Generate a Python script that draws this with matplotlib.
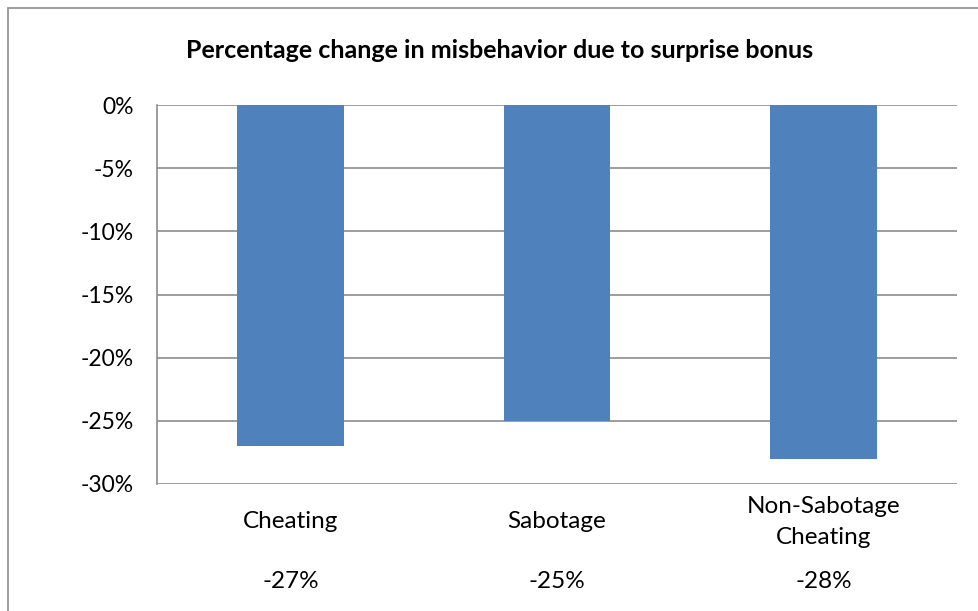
import matplotlib
matplotlib.use("Agg")
import matplotlib.pyplot as plt
from matplotlib.patches import Rectangle
from matplotlib.transforms import blended_transform_factory

categories = ["Cheating", "Sabotage", "Non-Sabotage\nCheating"]
values = [-27, -25, -28]
value_labels = ["-27%", "-25%", "-28%"]
yticks = [0, -5, -10, -15, -20, -25, -30]
ytick_labels = ["0%", "-5%", "-10%", "-15%", "-20%", "-25%", "-30%"]

plt.rcParams["font.family"] = ["Lato", "DejaVu Sans"]

W, H = 979, 611
fig = plt.figure(figsize=(W / 100, H / 100), dpi=100)

# outer chart frame
fig.patches.append(Rectangle((8 / W, -0.05), 1.2, 1 - 8 / H + 0.05,
                             transform=fig.transFigure, fill=False,
                             edgecolor="#8c8c8c", linewidth=1.2))

ax = fig.add_axes([157 / W, 1 - 484 / H, 800 / W, 379 / H])

x = list(range(len(categories)))
ax.bar(x, values, width=0.4, color="#4F81BD", zorder=3)

ax.set_xlim(-0.5, len(categories) - 0.5)
ax.set_ylim(-30, 0)
ax.set_yticks(yticks)
ax.set_yticklabels(ytick_labels, fontsize=16.5)
ax.tick_params(axis="y", length=0, pad=17)
ax.set_xticks([])
ax.grid(axis="y", color="#8c8c8c", linewidth=1.2, zorder=0)
ax.set_axisbelow(True)

for side in ["top", "right", "bottom"]:
    ax.spines[side].set_visible(False)
ax.spines["left"].set_color("#8c8c8c")
ax.spines["left"].set_linewidth(1.2)

trans = blended_transform_factory(ax.transData, fig.transFigure)
for xi, cat, vl in zip(x, categories, value_labels):
    ax.text(xi, 1 - 522 / H, cat, transform=trans, ha="center", va="center",
            fontsize=17.5, linespacing=1.6)
    ax.text(xi, 1 - 582 / H, vl, transform=trans, ha="center", va="center",
            fontsize=17.5)

fig.text(500 / W, 1 - 51 / H, "Percentage change in misbehavior due to surprise bonus",
         ha="center", va="center", fontsize=18, fontweight="bold")

fig.savefig("out.png", dpi=100)
